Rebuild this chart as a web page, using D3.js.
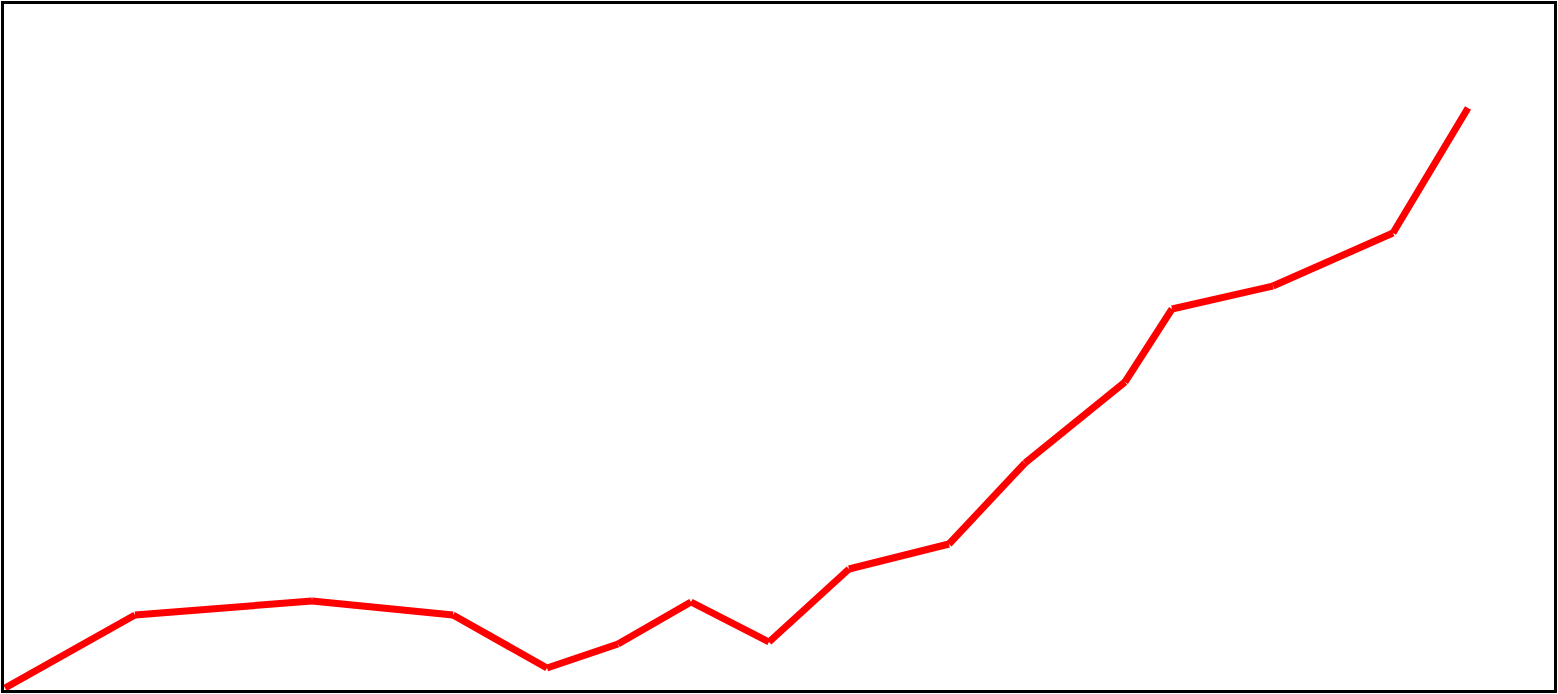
<!DOCTYPE html>
<html>
<head>
<meta charset="utf-8">
<script src="https://cdn.jsdelivr.net/npm/d3@7"></script>
<style>
  html, body { margin: 0; padding: 0; background: #fff; }
</style>
</head>
<body>
<div id="chart"></div>
<script>
// values (x position, value)
const xValues = [2, 132, 309, 450, 544, 615, 688, 766, 846, 946, 1022, 1122, 1169, 1270, 1390, 1465];
const yValues = [3, 76, 90, 76, 23, 47, 89, 49, 122, 147, 228, 309, 382, 405, 458, 583];

const W = 1558, H = 694;
const margin = { top: 3, right: 3, bottom: 3, left: 3 };
const width = W - margin.left - margin.right;
const height = H - margin.top - margin.bottom;

const svg = d3.select("#chart").append("svg")
  .attr("width", W).attr("height", H);

const g = svg.append("g")
  .attr("transform", `translate(${margin.left},${margin.top})`);

const x = d3.scaleLinear().domain([0, 1552]).range([0, width]);
const y = d3.scaleLinear().domain([0, 688]).range([height, 0]);

const pts = xValues.map((v, i) => ({ x: v, y: yValues[i] }));
const segs = d3.pairs(pts);

// each segment drawn on its own with butt caps
g.selectAll("line.seg")
  .data(segs)
  .enter()
  .append("line")
  .attr("class", "seg")
  .attr("x1", d => x(d[0].x))
  .attr("y1", d => y(d[0].y))
  .attr("x2", d => x(d[1].x))
  .attr("y2", d => y(d[1].y))
  .attr("stroke", "#ff0000")
  .attr("stroke-width", 7)
  .attr("stroke-linecap", "butt");

// frame
svg.append("rect")
  .attr("x", 2.5).attr("y", 2.5)
  .attr("width", W - 5).attr("height", H - 5)
  .attr("fill", "none")
  .attr("stroke", "#000")
  .attr("stroke-width", 3);
</script>
</body>
</html>
